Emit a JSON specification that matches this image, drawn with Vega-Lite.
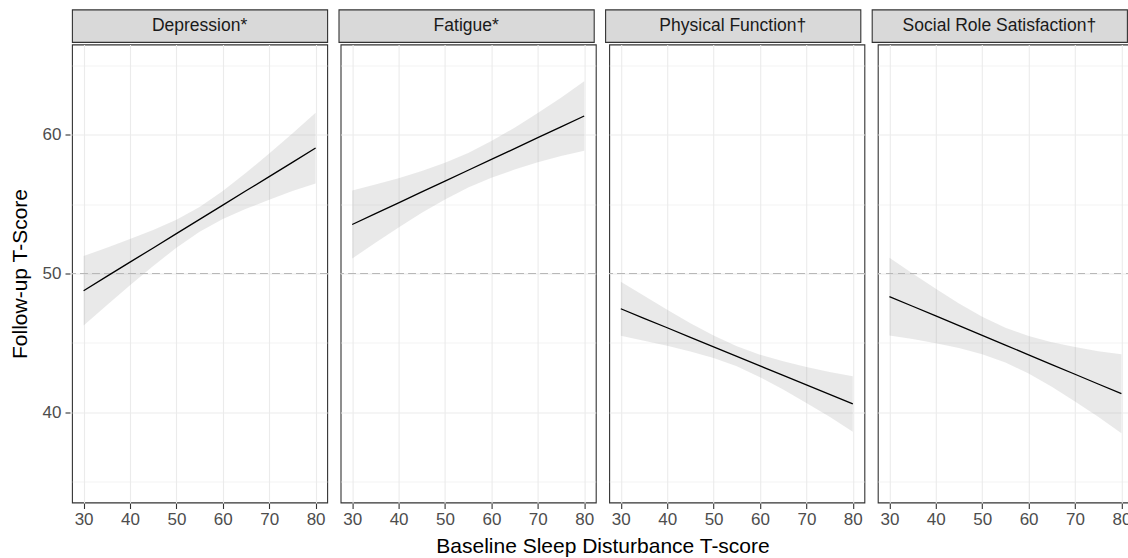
{
  "$schema": "https://vega.github.io/schema/vega-lite/v6.json",
  "background": "white",
  "padding": {"left": 9, "top": 8.5, "right": 0, "bottom": 0},
  "config": {
    "font": "Liberation Sans",
    "axis": {"labelFont": "Liberation Sans", "titleFont": "Liberation Sans"},
    "header": {"labelFont": "Liberation Sans", "titleFont": "Liberation Sans"}
  },
  "datasets": {
    "panels": [
      {"panel": "Depression*"},
      {"panel": "Fatigue*"},
      {"panel": "Physical Function†"},
      {"panel": "Social Role Satisfaction†"}
    ],
    "fits": [
      {"panel": "Depression*", "x": 30, "fit": 48.76, "lo": 46.26, "hi": 51.26},
      {"panel": "Depression*", "x": 35, "fit": 49.79, "lo": 47.72, "hi": 51.86},
      {"panel": "Depression*", "x": 40, "fit": 50.82, "lo": 49.16, "hi": 52.48},
      {"panel": "Depression*", "x": 45, "fit": 51.84, "lo": 50.54, "hi": 53.14},
      {"panel": "Depression*", "x": 50, "fit": 52.87, "lo": 51.86, "hi": 53.88},
      {"panel": "Depression*", "x": 55, "fit": 53.90, "lo": 53.00, "hi": 54.80},
      {"panel": "Depression*", "x": 60, "fit": 54.93, "lo": 53.92, "hi": 55.94},
      {"panel": "Depression*", "x": 65, "fit": 55.96, "lo": 54.66, "hi": 57.26},
      {"panel": "Depression*", "x": 70, "fit": 56.98, "lo": 55.32, "hi": 58.64},
      {"panel": "Depression*", "x": 75, "fit": 58.01, "lo": 55.94, "hi": 60.08},
      {"panel": "Depression*", "x": 80, "fit": 59.04, "lo": 56.49, "hi": 61.59},
      {"panel": "Fatigue*", "x": 30, "fit": 53.53, "lo": 51.08, "hi": 55.98},
      {"panel": "Fatigue*", "x": 35, "fit": 54.31, "lo": 52.21, "hi": 56.41},
      {"panel": "Fatigue*", "x": 40, "fit": 55.09, "lo": 53.31, "hi": 56.87},
      {"panel": "Fatigue*", "x": 45, "fit": 55.88, "lo": 54.37, "hi": 57.39},
      {"panel": "Fatigue*", "x": 50, "fit": 56.66, "lo": 55.34, "hi": 57.98},
      {"panel": "Fatigue*", "x": 55, "fit": 57.44, "lo": 56.19, "hi": 58.69},
      {"panel": "Fatigue*", "x": 60, "fit": 58.22, "lo": 56.90, "hi": 59.54},
      {"panel": "Fatigue*", "x": 65, "fit": 59.00, "lo": 57.49, "hi": 60.51},
      {"panel": "Fatigue*", "x": 70, "fit": 59.79, "lo": 58.01, "hi": 61.57},
      {"panel": "Fatigue*", "x": 75, "fit": 60.57, "lo": 58.47, "hi": 62.67},
      {"panel": "Fatigue*", "x": 80, "fit": 61.35, "lo": 58.85, "hi": 63.85},
      {"panel": "Physical Function†", "x": 30, "fit": 47.46, "lo": 45.51, "hi": 49.41},
      {"panel": "Physical Function†", "x": 35, "fit": 46.77, "lo": 45.15, "hi": 48.39},
      {"panel": "Physical Function†", "x": 40, "fit": 46.09, "lo": 44.79, "hi": 47.39},
      {"panel": "Physical Function†", "x": 45, "fit": 45.40, "lo": 44.38, "hi": 46.42},
      {"panel": "Physical Function†", "x": 50, "fit": 44.72, "lo": 43.91, "hi": 45.53},
      {"panel": "Physical Function†", "x": 55, "fit": 44.03, "lo": 43.31, "hi": 44.75},
      {"panel": "Physical Function†", "x": 60, "fit": 43.34, "lo": 42.53, "hi": 44.15},
      {"panel": "Physical Function†", "x": 65, "fit": 42.66, "lo": 41.64, "hi": 43.68},
      {"panel": "Physical Function†", "x": 70, "fit": 41.97, "lo": 40.67, "hi": 43.27},
      {"panel": "Physical Function†", "x": 75, "fit": 41.29, "lo": 39.67, "hi": 42.91},
      {"panel": "Physical Function†", "x": 80, "fit": 40.60, "lo": 38.60, "hi": 42.60},
      {"panel": "Social Role Satisfaction†", "x": 30, "fit": 48.34, "lo": 45.54, "hi": 51.14},
      {"panel": "Social Role Satisfaction†", "x": 35, "fit": 47.64, "lo": 45.28, "hi": 50.00},
      {"panel": "Social Role Satisfaction†", "x": 40, "fit": 46.94, "lo": 44.98, "hi": 48.90},
      {"panel": "Social Role Satisfaction†", "x": 45, "fit": 46.24, "lo": 44.64, "hi": 47.84},
      {"panel": "Social Role Satisfaction†", "x": 50, "fit": 45.54, "lo": 44.19, "hi": 46.89},
      {"panel": "Social Role Satisfaction†", "x": 55, "fit": 44.84, "lo": 43.59, "hi": 46.09},
      {"panel": "Social Role Satisfaction†", "x": 60, "fit": 44.14, "lo": 42.79, "hi": 45.49},
      {"panel": "Social Role Satisfaction†", "x": 65, "fit": 43.44, "lo": 41.84, "hi": 45.04},
      {"panel": "Social Role Satisfaction†", "x": 70, "fit": 42.74, "lo": 40.78, "hi": 44.70},
      {"panel": "Social Role Satisfaction†", "x": 75, "fit": 42.04, "lo": 39.68, "hi": 44.40},
      {"panel": "Social Role Satisfaction†", "x": 80, "fit": 41.34, "lo": 38.49, "hi": 44.19}
    ]
  },
  "spacing": 0,
  "vconcat": [
    {
      "data": {"name": "panels"},
      "facet": {"column": {"field": "panel", "type": "nominal", "header": null}},
      "spacing": 9.6,
      "spec": {
        "width": 255.2,
        "height": 32.5,
        "view": {"fill": "#d9d9d9", "stroke": "#333333", "strokeWidth": 1.1},
        "mark": {"type": "text", "font": "Liberation Sans", "fontSize": 17.5, "color": "#1a1a1a"},
        "encoding": {"text": {"field": "panel", "type": "nominal"}}
      }
    },
    {
      "data": {"name": "fits"},
      "facet": {"column": {"field": "panel", "type": "nominal",
        "header": {"labels": false, "title": "Baseline Sleep Disturbance T-score", "titleOrient": "bottom",
          "titleFontSize": 21, "titleFontWeight": "normal", "titleColor": "#000000", "titlePadding": -2}}},
      "spacing": 9.6,
      "spec": {
        "width": 255.2,
        "height": 458,
        "view": {"fill": "white", "stroke": "#333333", "strokeWidth": 1.1},
        "layer": [
          {
            "mark": {"type": "area", "color": "#999999", "opacity": 0.22},
            "encoding": {
              "x": {"field": "x", "type": "quantitative",
                "scale": {"domain": [27.5, 82.5], "nice": false, "zero": false},
                "axis": {"orient": "bottom", "values": [30, 35, 40, 45, 50, 55, 60, 65, 70, 75, 80],
                  "labelExpr": "datum.value % 10 === 0 ? datum.label : ''",
                  "grid": true, "gridColor": "#ebebeb",
                  "gridWidth": {"condition": {"test": "datum.value % 10 === 0", "value": 1.1}, "value": 0.6},
                  "ticks": true, "tickColor": "#333333", "tickWidth": 1.1, "tickSize": 5,
                  "tickOpacity": {"condition": {"test": "datum.value % 10 === 0", "value": 1}, "value": 0},
                  "domain": false, "labelFontSize": 17, "labelColor": "#4d4d4d", "labelPadding": 3,
                  "title": null}},
              "y": {"field": "lo", "type": "quantitative",
                "scale": {"domain": [33.5, 66.5], "nice": false, "zero": false},
                "axis": {"orient": "left", "values": [35, 40, 45, 50, 55, 60, 65],
                  "labelExpr": "datum.value % 10 === 0 ? datum.label : ''",
                  "grid": true, "gridColor": "#ebebeb",
                  "gridWidth": {"condition": {"test": "datum.value % 10 === 0", "value": 1.1}, "value": 0.6},
                  "ticks": true, "tickColor": "#333333", "tickWidth": 1.1, "tickSize": 5,
                  "tickOpacity": {"condition": {"test": "datum.value % 10 === 0", "value": 1}, "value": 0},
                  "domain": false, "labelFontSize": 17, "labelColor": "#4d4d4d", "labelPadding": 4,
                  "title": "Follow-up T-Score", "titleFontSize": 21, "titleFontWeight": "normal", "titleColor": "#000000", "titlePadding": 12}},
              "y2": {"field": "hi"}
            }
          },
          {
            "mark": {"type": "rule", "color": "#b8b8b8", "strokeDash": [7, 5], "strokeWidth": 1.2},
            "encoding": {"y": {"datum": 50}}
          },
          {
            "mark": {"type": "line", "color": "#000000", "strokeWidth": 1.3},
            "encoding": {
              "x": {"field": "x", "type": "quantitative"},
              "y": {"field": "fit", "type": "quantitative"}
            }
          }
        ]
      }
    }
  ]
}
